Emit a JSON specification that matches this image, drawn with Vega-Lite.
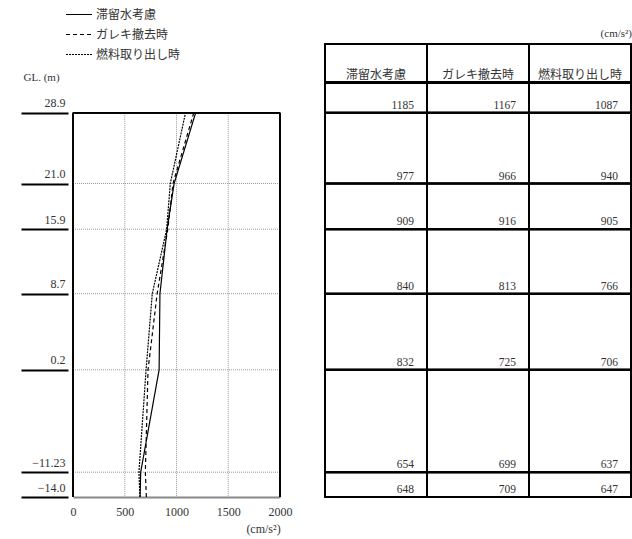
{
  "$schema": "https://vega.github.io/schema/vega-lite/v6.json",
  "padding": {"left": 20, "top": 0, "right": 0, "bottom": 5},
  "background": "white",
  "config": {
    "font": "Liberation Serif, Noto Sans CJK JP",
    "concat": {"spacing": 45}
  },
  "datasets": {
    "acc": [
      {"series": "滞留水考慮", "el": 28.9, "acc": 1185},
      {"series": "ガレキ撤去時", "el": 28.9, "acc": 1167},
      {"series": "燃料取り出し時", "el": 28.9, "acc": 1087},
      {"series": "滞留水考慮", "el": 21.0, "acc": 977},
      {"series": "ガレキ撤去時", "el": 21.0, "acc": 966},
      {"series": "燃料取り出し時", "el": 21.0, "acc": 940},
      {"series": "滞留水考慮", "el": 15.9, "acc": 909},
      {"series": "ガレキ撤去時", "el": 15.9, "acc": 916},
      {"series": "燃料取り出し時", "el": 15.9, "acc": 905},
      {"series": "滞留水考慮", "el": 8.7, "acc": 840},
      {"series": "ガレキ撤去時", "el": 8.7, "acc": 813},
      {"series": "燃料取り出し時", "el": 8.7, "acc": 766},
      {"series": "滞留水考慮", "el": 0.2, "acc": 832},
      {"series": "ガレキ撤去時", "el": 0.2, "acc": 725},
      {"series": "燃料取り出し時", "el": 0.2, "acc": 706},
      {"series": "滞留水考慮", "el": -11.23, "acc": 654},
      {"series": "ガレキ撤去時", "el": -11.23, "acc": 699},
      {"series": "燃料取り出し時", "el": -11.23, "acc": 637},
      {"series": "滞留水考慮", "el": -14.0, "acc": 648},
      {"series": "ガレキ撤去時", "el": -14.0, "acc": 709},
      {"series": "燃料取り出し時", "el": -14.0, "acc": 647}
    ],
    "xgrid": [{"g": 500}, {"g": 1000}, {"g": 1500}],
    "levels": [{"el": 21.0}, {"el": 15.9}, {"el": 8.7}, {"el": 0.2}, {"el": -11.23}]
  },
  "bounds": "flush",
  "resolve": {"legend": {"strokeDash": "independent"}},
  "hconcat": [
    {
      "width": 207,
      "height": 453,
      "view": {"stroke": null},
      "layer": [
        {
          "data": {"name": "xgrid"},
          "mark": {"type": "rule", "color": "#999", "strokeDash": [1, 1], "strokeWidth": 1},
          "encoding": {
            "x": {"field": "g", "type": "quantitative", "scale": {"domain": [0, 2000]}},
            "y": {"datum": 28.9, "type": "quantitative"},
            "y2": {"datum": -14.0}
          }
        },
        {
          "data": {"name": "levels"},
          "mark": {"type": "rule", "color": "#999", "strokeDash": [1, 1], "strokeWidth": 1},
          "encoding": {
            "y": {"field": "el", "type": "quantitative"},
            "x": {"datum": 0, "type": "quantitative"},
            "x2": {"datum": 2000}
          }
        },
        {
          "data": {"name": "levels"},
          "mark": {"type": "rule", "color": "black", "strokeWidth": 1.5},
          "encoding": {
            "y": {"datum": 28.9, "type": "quantitative"},
            "x": {"datum": 0, "type": "quantitative"},
            "x2": {"datum": 2000}
          }
        },
        {
          "data": {"name": "xgrid"},
          "mark": {"type": "rule", "color": "black", "strokeWidth": 1.5},
          "encoding": {
            "x": {"datum": 0, "type": "quantitative"},
            "y": {"datum": 28.9, "type": "quantitative"},
            "y2": {"datum": -14.0}
          }
        },
        {
          "data": {"name": "xgrid"},
          "mark": {"type": "rule", "color": "black", "strokeWidth": 1.5},
          "encoding": {
            "x": {"datum": 2000, "type": "quantitative"},
            "y": {"datum": 28.9, "type": "quantitative"},
            "y2": {"datum": -14.0}
          }
        },
        {
          "data": {"name": "acc"},
          "mark": {"type": "line", "color": "black", "strokeWidth": 1.2},
          "encoding": {
            "x": {
              "field": "acc", "type": "quantitative",
              "scale": {"domain": [0, 2000], "nice": false},
              "axis": {
                "values": [0, 500, 1000, 1500, 2000], "format": "d",
                "grid": false, "ticks": false,
                "domainColor": "#888", "domainWidth": 2,
                "labelFontSize": 12, "labelColor": "#333", "labelPadding": 9,
                "labelFlush": false,
                "title": "(cm/s²)", "titleFontSize": 12, "titleFontWeight": "normal", "titleColor": "#333",
                "titleX": 190, "titleY": 31, "titleAlign": "center", "titleBaseline": "middle"
              }
            },
            "y": {
              "field": "el", "type": "quantitative",
              "scale": {"domain": [-14.0, 36.58], "nice": false, "zero": false},
              "axis": {
                "values": [28.9, 21.0, 15.9, 8.7, 0.2, -11.23, -14.0],
                "labelExpr": "format(datum.value, datum.value == -11.23 ? '.2f' : '.1f')",
                "grid": false, "domain": false, "offset": 5,
                "tickSize": 47, "tickWidth": 2, "tickColor": "black",
                "labelAlign": "right", "labelBaseline": "bottom", "labelPadding": -44, "labelOffset": -3,
                "labelFontSize": 12, "labelColor": "#333",
                "title": "GL. (m)", "titleAngle": 0, "titleAlign": "left", "titleBaseline": "middle",
                "titleX": -45, "titleY": 33, "titleFontSize": 11, "titleFontWeight": "normal", "titleColor": "#333"
              }
            },
            "strokeDash": {
              "field": "series", "type": "nominal",
              "scale": {"domain": ["滞留水考慮", "ガレキ撤去時", "燃料取り出し時"], "range": [[1, 0], [4, 3], [2, 1]]},
              "legend": {
                "orient": "none", "legendX": -8, "legendY": -43.5, "title": null,
                "symbolType": "stroke", "symbolSize": 676, "symbolStrokeColor": "black", "symbolStrokeWidth": 1.2,
                "labelFontSize": 12, "labelColor": "#333", "labelOffset": 3, "rowPadding": 0
              }
            },
            "order": {"field": "el", "type": "quantitative"}
          }
        }
      ]
    },
    {
      "width": 306,
      "height": 453,
      "view": {"stroke": "black", "strokeWidth": 2},
      "data": {"name": "acc"},
      "title": {"text": "(cm/s²)", "anchor": "end", "fontSize": 11, "fontWeight": "normal", "color": "#333", "offset": 4},
      "layer": [
        {
          "mark": {"type": "rule", "color": "black", "strokeWidth": 2},
          "encoding": {
            "y": {"field": "el", "type": "quantitative", "scale": {"domain": [-14.0, 36.58], "nice": false, "zero": false}, "axis": null}
          }
        },
        {
          "mark": {"type": "rule", "color": "black", "strokeWidth": 2},
          "encoding": {
            "y": {"datum": 32.25, "type": "quantitative"}
          }
        },
        {
          "transform": [{"filter": "datum.el == 28.9"}],
          "mark": {"type": "rule", "color": "black", "strokeWidth": 2},
          "encoding": {
            "x": {"field": "series", "type": "nominal", "bandPosition": 0,
              "scale": {"domain": ["滞留水考慮", "ガレキ撤去時", "燃料取り出し時"], "paddingInner": 0, "paddingOuter": 0}, "axis": null},
            "y": {"datum": 36.58, "type": "quantitative"},
            "y2": {"datum": -14.0}
          }
        },
        {
          "transform": [{"filter": "datum.el == 28.9"}],
          "mark": {"type": "text", "baseline": "bottom", "dy": -1, "fontSize": 12, "color": "#333"},
          "encoding": {
            "x": {"field": "series", "type": "nominal"},
            "y": {"datum": 32.25, "type": "quantitative"},
            "text": {"field": "series"}
          }
        },
        {
          "mark": {"type": "text", "baseline": "bottom", "align": "right", "dx": -13, "dy": -2, "fontSize": 11.5, "color": "#333"},
          "encoding": {
            "x": {"field": "series", "type": "nominal", "bandPosition": 1},
            "y": {"field": "el", "type": "quantitative"},
            "text": {"field": "acc", "type": "quantitative"}
          }
        }
      ]
    }
  ]
}
